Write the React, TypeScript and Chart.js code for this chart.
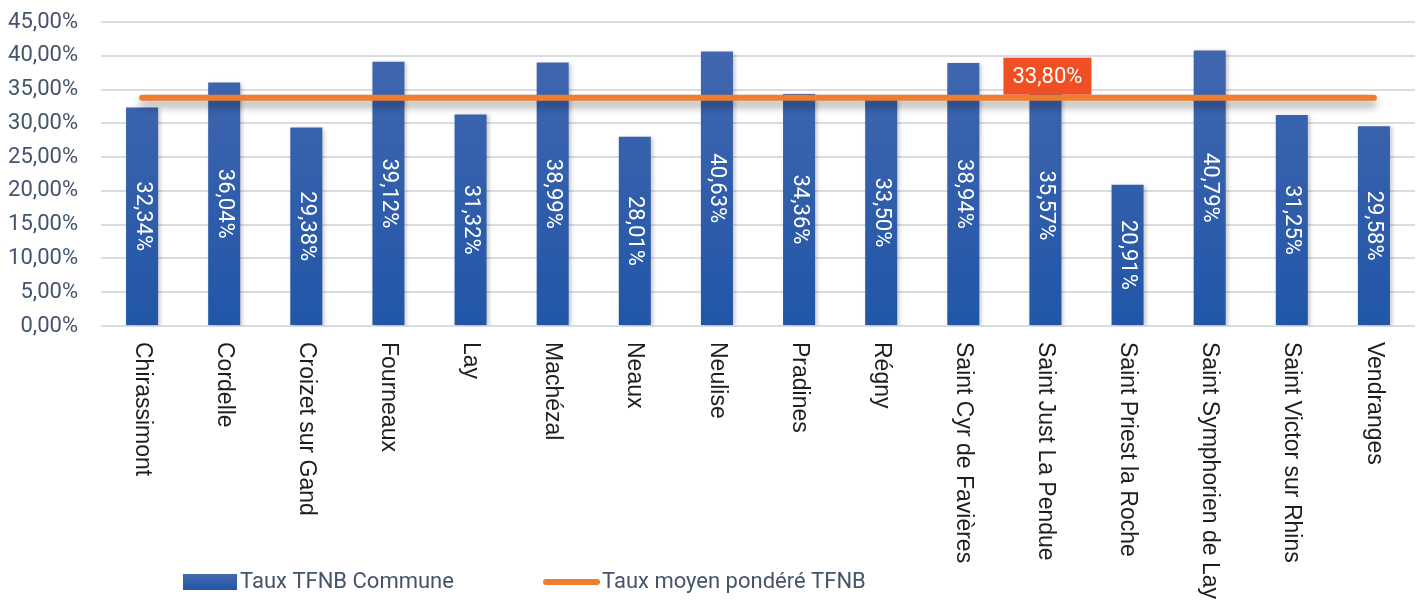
import React, { useEffect, useRef } from "react";
import { Chart, registerables } from "chart.js";
Chart.register(...registerables);

const communes = [
  "Chirassimont",
  "Cordelle",
  "Croizet sur Gand",
  "Fourneaux",
  "Lay",
  "Machézal",
  "Neaux",
  "Neulise",
  "Pradines",
  "Régny",
  "Saint Cyr de Favières",
  "Saint Just La Pendue",
  "Saint Priest la Roche",
  "Saint Symphorien de Lay",
  "Saint Victor sur Rhins",
  "Vendranges",
];
const tauxCommune = [32.34, 36.04, 29.38, 39.12, 31.32, 38.99, 28.01, 40.63, 34.36, 33.5, 38.94, 35.57, 20.91, 40.79, 31.25, 29.58];
const tauxMoyen = [33.8, 33.8, 33.8, 33.8, 33.8, 33.8, 33.8, 33.8, 33.8, 33.8, 33.8, 33.8, 33.8, 33.8, 33.8, 33.8];
const labelIndex = 11;
const yMin = 0;
const yMax = 45;
const yStep = 5;

const seriesNames = ["Taux TFNB Commune", "Taux moyen pondéré TFNB"];

const FONT = "Roboto, 'Noto Sans', sans-serif";
const XFONT = "'Liberation Sans', Arial, sans-serif";
const fmt = (v: number) => v.toFixed(2).replace(".", ",") + "%";

export default function App() {
  const ref = useRef<HTMLCanvasElement | null>(null);
  useEffect(() => {
    const canvas = ref.current;
    if (!canvas) return;

    const barGradient = (ctx: CanvasRenderingContext2D, top: number, bottom: number) => {
      const g = ctx.createLinearGradient(0, top, 0, bottom);
      g.addColorStop(0, "#4568B0");
      g.addColorStop(1, "#2156A7");
      return g;
    };

    const shadowPlugin = {
      id: "shadows",
      beforeDatasetDraw(chart: any, args: any) {
        const ctx = chart.ctx;
        ctx.save();
        if (args.meta.type === "line") {
          ctx.shadowColor = "rgba(0,0,0,0.38)";
          ctx.shadowBlur = 9;
          ctx.shadowOffsetY = 6;
        } else {
          ctx.shadowColor = "rgba(0,0,0,0.22)";
          ctx.shadowBlur = 4;
          ctx.shadowOffsetX = 2;
          ctx.shadowOffsetY = 1;
        }
      },
      afterDatasetDraw(chart: any) {
        chart.ctx.restore();
      },
    };

    const decorPlugin = {
      id: "decor",
      afterDatasetsDraw(chart: any) {
        const ctx = chart.ctx as CanvasRenderingContext2D;
        // bar value labels
        const barMeta = chart.getDatasetMeta(0);
        ctx.save();
        ctx.fillStyle = "#FFFFFF";
        ctx.font = `22px ${FONT}`;
        ctx.textAlign = "center";
        ctx.textBaseline = "middle";
        barMeta.data.forEach((el: any, i: number) => {
          const mid = (el.y + el.base) / 2;
          ctx.save();
          ctx.translate(el.x, mid);
          ctx.rotate(Math.PI / 2);
          ctx.fillText(fmt(tauxCommune[i]), 0, 0);
          ctx.restore();
        });
        ctx.restore();

        // line value label
        const lineMeta = chart.getDatasetMeta(1);
        const pt = lineMeta.data[labelIndex];
        if (pt) {
          ctx.save();
          const w = 88;
          const h = 37;
          ctx.fillStyle = "#F04E23";
          ctx.fillRect(pt.x - w / 2 + 2, pt.y - 3 - h, w, h);
          ctx.fillStyle = "#FFFFFF";
          ctx.font = `22px ${FONT}`;
          ctx.textAlign = "center";
          ctx.textBaseline = "middle";
          ctx.fillText(fmt(tauxMoyen[labelIndex]), pt.x + 2, pt.y - 3 - h / 2 + 1);
          ctx.restore();
        }
      },
      afterDraw(chart: any) {
        const ctx = chart.ctx as CanvasRenderingContext2D;
        const xs = chart.scales.x;
        // category labels, rotated clockwise
        ctx.save();
        ctx.fillStyle = "#1E1E1E";
        ctx.font = `23px ${XFONT}`;
        ctx.textAlign = "left";
        ctx.textBaseline = "middle";
        communes.forEach((c, i) => {
          const x = xs.getPixelForValue(i);
          ctx.save();
          ctx.translate(x, chart.chartArea.bottom + 16);
          ctx.rotate(Math.PI / 2);
          ctx.fillText(c, 0, 0);
          ctx.restore();
        });
        ctx.restore();

        // legend
        ctx.save();
        ctx.fillStyle = barGradient(ctx, 574, 590);
        ctx.fillRect(183, 574, 54, 16);
        ctx.fillStyle = "#44546A";
        ctx.font = `22px ${FONT}`;
        ctx.textAlign = "left";
        ctx.textBaseline = "middle";
        ctx.fillText(seriesNames[0], 240, 582);
        ctx.strokeStyle = "#ED7D31";
        ctx.lineWidth = 6;
        ctx.lineCap = "round";
        ctx.beginPath();
        ctx.moveTo(546, 582);
        ctx.lineTo(597, 582);
        ctx.stroke();
        ctx.fillText(seriesNames[1], 602, 582);
        ctx.restore();
      },
    };

    const chart = new Chart(canvas, {
      type: "bar",
      data: {
        labels: communes,
        datasets: [
          {
            type: "bar",
            label: seriesNames[0],
            data: tauxCommune,
            order: 1,
            backgroundColor: (c: any) => {
              const a = c.chart.chartArea;
              if (!a) return "#3460AC";
              return barGradient(c.chart.ctx, a.top, a.bottom);
            },
            borderWidth: 0,
            barPercentage: 0.39,
            categoryPercentage: 1,
          },
          {
            type: "line",
            label: seriesNames[1],
            data: tauxMoyen,
            order: 0,
            borderColor: "#ED7D31",
            borderWidth: 6,
            borderCapStyle: "round",
            pointRadius: 0,
            fill: false,
          } as any,
        ],
      },
      options: {
        responsive: false,
        animation: false,
        layout: { padding: { left: 0, top: 22, right: 9, bottom: 0 } },
        plugins: {
          legend: { display: false },
          tooltip: { enabled: false },
          title: { display: false },
        },
        scales: {
          x: {
            display: true,
            grid: { display: false },
            border: { display: false },
            ticks: { display: false },
            afterFit: (s: any) => {
              s.height = 282;
            },
          },
          y: {
            min: yMin,
            max: yMax,
            border: { display: false },
            grid: { color: "#D9DDE2", lineWidth: 2, drawTicks: false },
            ticks: {
              stepSize: yStep,
              padding: 23,
              color: "#44546A",
              font: { family: FONT, size: 22 },
              callback: (v: any) => fmt(Number(v)),
            },
            afterFit: (s: any) => {
              s.width = 101;
              s.paddingTop = 0;
              s.paddingBottom = 0;
            },
          },
        },
      },
      plugins: [shadowPlugin, decorPlugin],
    } as any);
    return () => chart.destroy();
  }, []);

  return (
    <div style={{ position: "absolute", left: 0, top: 0, width: 1424, height: 608, background: "#fff" }}>
      <canvas ref={ref} width={1424} height={608} />
    </div>
  );
}
